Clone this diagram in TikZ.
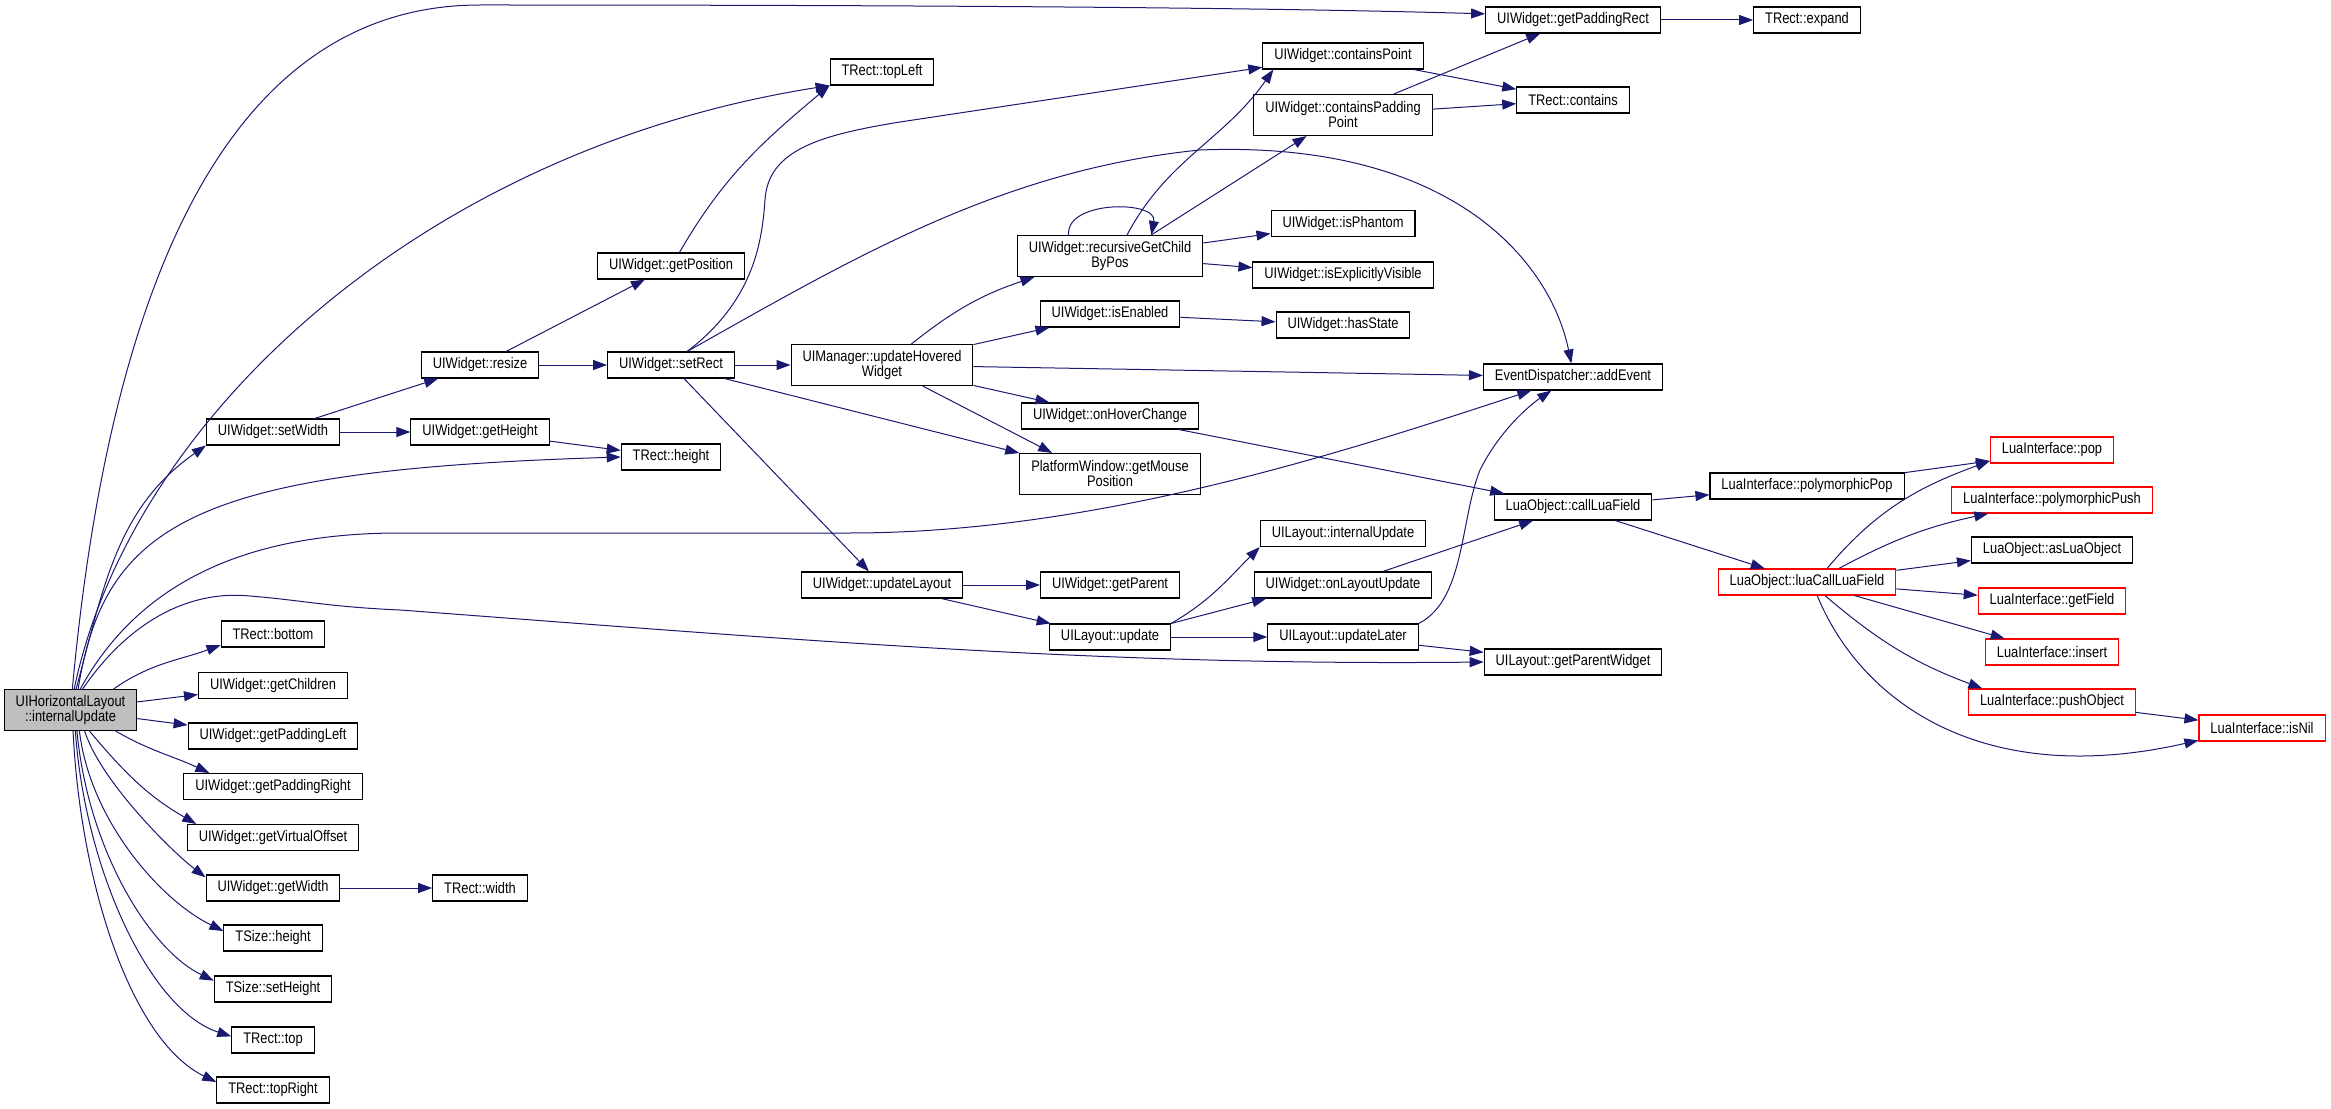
\documentclass[tikz,border=0pt]{standalone}
\usepackage{fontspec}
\setmainfont{Liberation Sans}[FakeStretch=0.84]
\usetikzlibrary{arrows.meta}
\definecolor{edgeblue}{HTML}{191970}
\definecolor{rootgray}{HTML}{BFBFBF}

\begin{document}
\begin{tikzpicture}[x=0.75pt,y=-0.75pt,
      every node/.style={draw,line width=0.8pt,fill=white,inner xsep=8.6pt,inner ysep=2pt,
        minimum height=19.5pt,font=\fontsize{11.5}{11.25}\selectfont},
      twoline/.style={align=center,minimum height=30.75pt},
      current/.style={fill=rootgray},
      missing/.style={draw=red},
      call/.style={draw=edgeblue,line width=0.75pt,-{Triangle[length=10.5pt,width=7.5pt]}}]
    \useasboundingbox (0,0) rectangle (2331,1109);

    \node[twoline,current] (root) at (70.5,710) {UIHorizontalLayout\\::internalUpdate};
    \node (bottom) at (273,634) {TRect::bottom};
    \node (getchildren) at (273,685.5) {UIWidget::getChildren};
    \node (padleft) at (273,736) {UIWidget::getPaddingLeft};
    \node (padright) at (273,786.5) {UIWidget::getPaddingRight};
    \node (virtoffset) at (273,837.5) {UIWidget::getVirtualOffset};
    \node (getwidth) at (273,888) {UIWidget::getWidth};
    \node (sizeheight) at (273,938) {TSize::height};
    \node (sizesetheight) at (273,989) {TSize::setHeight};
    \node (top) at (273,1040) {TRect::top};
    \node (topright) at (273,1090) {TRect::topRight};
    \node (setwidth) at (273,432) {UIWidget::setWidth};
    \node (resize) at (480,365) {UIWidget::resize};
    \node (getheight) at (480,432) {UIWidget::getHeight};
    \node (rectwidth) at (480,888) {TRect::width};
    \node (getposition) at (671,266) {UIWidget::getPosition};
    \node (setrect) at (671,365) {UIWidget::setRect};
    \node (rectheight) at (671,457) {TRect::height};
    \node (topleft) at (882,72) {TRect::topLeft};
    \node[twoline] (hovered) at (882,365) {UIManager::updateHovered\\Widget};
    \node (updatelayout) at (882,585) {UIWidget::updateLayout};
    \node[twoline] (childbypos) at (1110,256) {UIWidget::recursiveGetChild\\ByPos};
    \node (isenabled) at (1110,314) {UIWidget::isEnabled};
    \node (hoverchange) at (1110,416) {UIWidget::onHoverChange};
    \node[twoline] (mousepos) at (1110,474) {PlatformWindow::getMouse\\Position};
    \node (getparent) at (1110,585) {UIWidget::getParent};
    \node (layoutupdate) at (1110,637) {UILayout::update};
    \node (containspoint) at (1343,56) {UIWidget::containsPoint};
    \node[twoline] (containspadding) at (1343,115) {UIWidget::containsPadding\\Point};
    \node (isphantom) at (1343,223.5) {UIWidget::isPhantom};
    \node (isvisible) at (1343,275) {UIWidget::isExplicitlyVisible};
    \node (hasstate) at (1343,325) {UIWidget::hasState};
    \node (layoutinternal) at (1343,533.5) {UILayout::internalUpdate};
    \node (onlayoutupdate) at (1343,585) {UIWidget::onLayoutUpdate};
    \node (updatelater) at (1343,637) {UILayout::updateLater};
    \node (paddingrect) at (1573,20) {UIWidget::getPaddingRect};
    \node (contains) at (1573,100) {TRect::contains};
    \node (addevent) at (1573,377) {EventDispatcher::addEvent};
    \node (callluafield) at (1573,507) {LuaObject::callLuaField};
    \node (parentwidget) at (1573,662) {UILayout::getParentWidget};
    \node (expand) at (1807,20) {TRect::expand};
    \node (polypop) at (1807,486) {LuaInterface::polymorphicPop};
    \node[missing] (luacall) at (1807,582) {LuaObject::luaCallLuaField};
    \node[missing] (pop) at (2052,450) {LuaInterface::pop};
    \node[missing] (polypush) at (2052,500) {LuaInterface::polymorphicPush};
    \node (asluaobject) at (2052,550) {LuaObject::asLuaObject};
    \node[missing] (getfield) at (2052,601) {LuaInterface::getField};
    \node[missing] (insert) at (2052,652) {LuaInterface::insert};
    \node[missing] (pushobject) at (2052,702) {LuaInterface::pushObject};
    \node[missing] (isnil) at (2262,728) {LuaInterface::isNil};

    \draw[call] (root.85) .. controls (110,280) and (230,5) .. (480,5)
      .. controls (1100,5) and (1350,10) .. (paddingrect.176);
    \draw[call] (root.80) .. controls (130,420) and (420,150) .. (topleft.south west);
    \draw[call] (root.75) to[out=75,in=215] (setwidth.south west);
    \draw[call] (root.70) .. controls (105,520) and (200,470) .. (rectheight.west);
    \draw[call] (root.65) .. controls (140,580) and (250,533) .. (400,533) -- (850,533)
      .. controls (1100,533) and (1350,450) .. (addevent.198);
    \draw[call] (root.60) .. controls (130,620) and (190,590) .. (250,596)
      .. controls (300,600) and (330,607) .. (400,610)
      .. controls (800,640) and (1100,666) .. (parentwidget.west);
    \draw[call] (root.26) to[out=35,in=200] (bottom.192);
    \draw[call] (root) -- (getchildren);
    \draw[call] (root) -- (padleft);
    \draw[call] (root.-25) to[out=-30,in=155] (padright.168);
    \draw[call] (root.-48) to[out=-50,in=150] (virtoffset.170);
    \draw[call] (root.-56) .. controls (100,780) and (170,850) .. (getwidth.171);
    \draw[call] (root.-67) .. controls (90,820) and (160,900) .. (sizeheight.172);
    \draw[call] (root.-73) .. controls (88,850) and (150,950) .. (sizesetheight.172);
    \draw[call] (root.-77) .. controls (85,870) and (150,1010) .. (top.175);
    \draw[call] (root.-83) .. controls (80,880) and (130,1040) .. (topright.172);
    \draw[call] (setwidth) -- (resize);
    \draw[call] (setwidth) -- (getheight);
    \draw[call] (getheight) -- (rectheight);
    \draw[call] (getwidth) -- (rectwidth);
    \draw[call] (resize) -- (getposition);
    \draw[call] (resize) -- (setrect);
    \draw[call] (getposition.58) to[out=60,in=220] (topleft.south west);
    \draw[call] (setrect.40) .. controls (755,300) and (762,240) .. (765,200)
      .. controls (768,150) and (820,135) .. (900,122) -- (containspoint.188);
    \draw[call] (setrect.40) .. controls (850,260) and (1000,170) .. (1200,150)
      .. controls (1450,140) and (1550,260) .. (addevent.97);
    \draw[call] (setrect) -- (hovered);
    \draw[call] (setrect) -- (mousepos.167);
    \draw[call] (setrect) -- (updatelayout);
    \draw[call] (hovered) to[bend left=10] (childbypos);
    \draw[call] (hovered) -- (isenabled);
    \draw[call] (hovered) -- (addevent);
    \draw[call] (hovered) -- (hoverchange);
    \draw[call] (hovered) -- (mousepos.160);
    \draw[call] (childbypos.153) .. controls (1065,200) and (1158,200) .. (childbypos.27);
    \draw[call] (childbypos.51) to[out=62,in=235] (containspoint.191);
    \draw[call] (childbypos.27) -- (containspadding.210);
    \draw[call] (childbypos) -- (isphantom);
    \draw[call] (childbypos) -- (isvisible);
    \draw[call] (isenabled) -- (hasstate);
    \draw[call] (hoverchange) -- (callluafield);
    \draw[call] (updatelayout) -- (getparent);
    \draw[call] (updatelayout) -- (layoutupdate);
    \draw[call] (layoutupdate.north east) to[out=30,in=225] (layoutinternal.south west);
    \draw[call] (layoutupdate.north east) -- (onlayoutupdate.190);
    \draw[call] (layoutupdate) -- (updatelater);
    \draw[call] (onlayoutupdate) -- (callluafield);
    \draw[call] (updatelater.north east) .. controls (1465,600) and (1460,520) .. (1480,470)
      .. controls (1500,430) and (1530,405) .. (addevent.212);
    \draw[call] (updatelater) -- (parentwidget);
    \draw[call] (containspoint) -- (contains);
    \draw[call] (containspadding) -- (contains);
    \draw[call] (containspadding) -- (paddingrect);
    \draw[call] (paddingrect) -- (expand);
    \draw[call] (callluafield) -- (polypop);
    \draw[call] (callluafield) -- (luacall);
    \draw[call] (polypop) -- (pop.190);
    \draw[call] (luacall.34) to[out=50,in=200] (pop.190);
    \draw[call] (luacall.23) to[bend left=8] (polypush.192);
    \draw[call] (luacall) -- (asluaobject);
    \draw[call] (luacall) -- (getfield);
    \draw[call] (luacall) -- (insert);
    \draw[call] (luacall.323) to[bend right=10] (pushobject.169);
    \draw[call] (luacall.307) .. controls (1860,700) and (1980,790) .. (isnil.191);
    \draw[call] (pushobject) -- (isnil);
\end{tikzpicture}
\end{document}
